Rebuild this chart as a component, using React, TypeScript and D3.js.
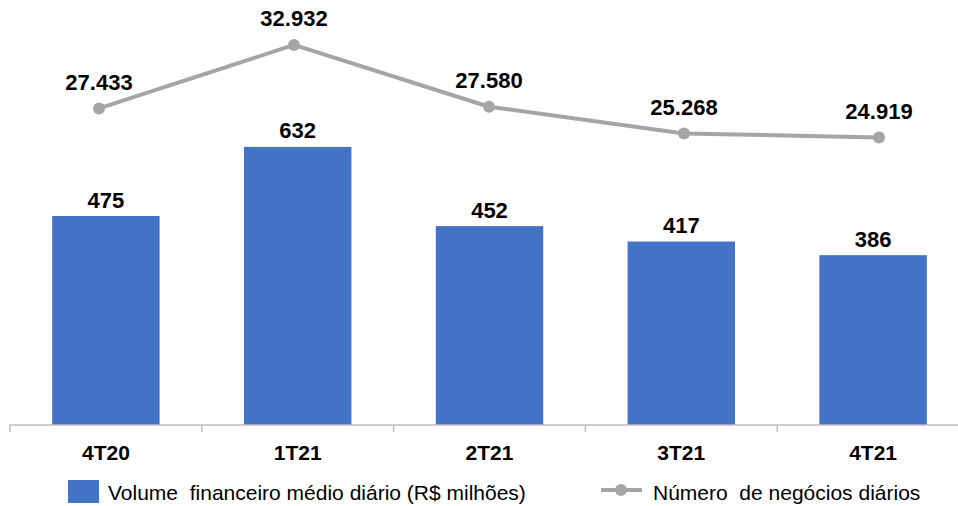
import React from "react";
import * as d3 from "d3";

const categories = ["4T20", "1T21", "2T21", "3T21", "4T21"];
const volumeValues = [475, 632, 452, 417, 386];
const volumeLabels = ["475", "632", "452", "417", "386"];
const tradesValues = [27433, 32932, 27580, 25268, 24919];
const tradesLabels = ["27.433", "32.932", "27.580", "25.268", "24.919"];
const legendBar = "Volume  financeiro médio diário (R$ milhões)";
const legendLine = "Número  de negócios diários";

const W = 958;
const H = 506;
const FONT = "'Liberation Sans', Arial, sans-serif";
const BAR_COLOR = "#4472C4";
const LINE_COLOR = "#A5A5A5";

export default function App() {
  const axisY = 425;
  const x = d3.scaleBand<string>().domain(categories).range([10, 969]).paddingInner(0.44).paddingOuter(0.22);
  const xl = d3.scalePoint<string>().domain(categories).range([99, 879]);
  const yBar = d3.scaleLinear().domain([0, 700]).range([axisY, axisY - 700 * 0.44]);
  const yLine = d3.scaleLinear().domain([0, 35000]).range([axisY, axisY - 35000 * 0.01154]);

  const line = d3
    .line<number>()
    .x((_, i) => xl(categories[i]) as number)
    .y((d) => yLine(d));

  const step = x.step();
  const edges = d3.range(categories.length).map((i) => 10 + i * step);

  return (
    <svg width={W} height={H} style={{ position: "absolute", left: 0, top: 0, background: "#fff" }} fontFamily={FONT}>
      {volumeValues.map((v, i) => (
        <g key={categories[i]}>
          <rect x={x(categories[i])} y={yBar(v)} width={x.bandwidth()} height={axisY - yBar(v)} fill={BAR_COLOR} />
          <text
            x={(x(categories[i]) as number) + x.bandwidth() / 2}
            y={yBar(v) - 8.5}
            textAnchor="middle"
            fontSize={22}
            fontWeight="bold"
            fill="#000"
          >
            {volumeLabels[i]}
          </text>
        </g>
      ))}
      <line x1={10} x2={W} y1={axisY} y2={axisY} stroke="#BFBFBF" strokeWidth={1.5} />
      {edges.map((e, i) => (
        <line key={i} x1={e} x2={e} y1={axisY} y2={axisY + 7} stroke="#BFBFBF" strokeWidth={1.5} />
      ))}
      {categories.map((c) => (
        <text key={c} x={(x(c) as number) + x.bandwidth() / 2} y={460} textAnchor="middle" fontSize={21} fontWeight="bold" fill="#000">
          {c}
        </text>
      ))}
      <path d={line(tradesValues) || ""} fill="none" stroke={LINE_COLOR} strokeWidth={4} strokeLinejoin="round" />
      {tradesValues.map((v, i) => (
        <g key={"p" + i}>
          <circle cx={xl(categories[i])} cy={yLine(v)} r={6} fill={LINE_COLOR} />
          <text x={xl(categories[i])} y={yLine(v) - 18.5} textAnchor="middle" fontSize={22} fontWeight="bold" fill="#000">
            {tradesLabels[i]}
          </text>
        </g>
      ))}
      <rect x={68} y={480} width={31} height={23} fill={BAR_COLOR} />
      <text x={108} y={500} fontSize={21} fill="#000" style={{ whiteSpace: "pre" }}>
        {legendBar}
      </text>
      <line x1={601} x2={642} y1={490} y2={490} stroke={LINE_COLOR} strokeWidth={4} />
      <circle cx={621} cy={490} r={6} fill={LINE_COLOR} />
      <text x={653} y={500} fontSize={21} fill="#000" style={{ whiteSpace: "pre" }}>
        {legendLine}
      </text>
    </svg>
  );
}
